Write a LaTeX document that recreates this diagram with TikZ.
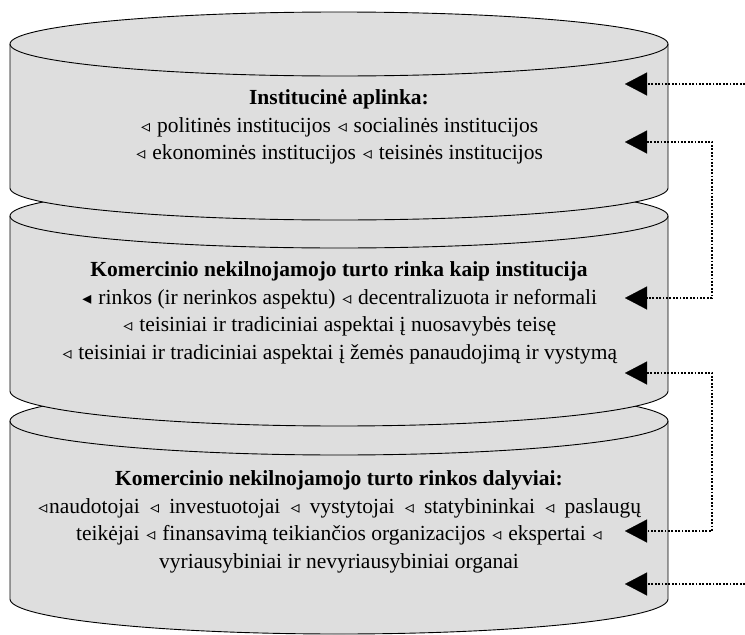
\documentclass[tikz,border=0pt]{standalone}
\usepackage{fontspec}
\setmainfont{Liberation Serif}
\newfontfamily\trifont{DejaVu Sans}
\usetikzlibrary{arrows.meta}
\definecolor{cylfill}{RGB}{222,222,222}
% small outline / filled triangles used as bullets
\newcommand\wtri{{\hspace{1.5pt}\trifont\fontsize{18}{18}\selectfont ◃\hspace{1.5pt}}}
\newcommand\btri{{\hspace{1.5pt}\trifont\fontsize{18}{18}\selectfont ◂\hspace{1.5pt}}}
% one cylinder segment: top centre y, top y-radius, bottom centre y, bottom y-radius
\newcommand\cylseg[4]{%
  \path[cylbody] (10,#3) -- (10,#1)
    arc[start angle=180,end angle=0,x radius=329,y radius=#2]
    -- (668,#3)
    arc[start angle=0,end angle=-180,x radius=329,y radius=#4] -- cycle;
  \draw[cylline] (10,#1) arc[start angle=180,end angle=360,x radius=329,y radius=#2];}
\begin{document}
\begin{tikzpicture}[x=1pt,y=1pt,
  cylbody/.style={fill=cylfill,draw=black,line width=0.9pt},
  cylline/.style={draw=black,line width=0.9pt},
  conn/.style={line width=2.6pt,dash pattern=on 1.9pt off 1.5pt},
  bigtip/.tip={Triangle[length=22pt,width=23pt,line width=0.1pt]},
  blocktext/.style={align=center,inner sep=0pt,font=\fontsize{21.5}{27.5}\selectfont}]
\useasboundingbox (0,0) rectangle (745,-635);

% stacked segments, lowest first so the upper ones overlap it
\cylseg{-421}{34}{-599}{35}
\cylseg{-216}{32}{-391}{35}
\cylseg{-44}{32}{-188}{32}

% texts of the three levels
\node[blocktext] (envtext) at (339,-127)
  {\textbf{Institucinė aplinka:}\\
   \wtri{} politinės institucijos \wtri{} socialinės institucijos\\
   \wtri{} ekonominės institucijos \wtri{} teisinės institucijos};
\node[blocktext] (markettext) at (339,-313)
  {\textbf{Komercinio nekilnojamojo turto rinka kaip institucija}\\
   \btri{} rinkos (ir nerinkos aspektu) \wtri{} decentralizuota ir neformali\\
   \wtri{} teisiniai ir tradiciniai aspektai į nuosavybės teisę\\
   \wtri{} teisiniai ir tradiciniai aspektai į žemės panaudojimą ir vystymą};
\node[blocktext] (actorstext) at (339,-522)
  {\textbf{Komercinio nekilnojamojo turto rinkos dalyviai:}\\
   \makebox[604pt][s]{\wtri{}naudotojai \wtri{} investuotojai \wtri{} vystytojai \wtri{} statybininkai \wtri{} paslaugų}\hspace*{46pt}\\
   teikėjai \wtri{} finansavimą teikiančios organizacijos \wtri{} ekspertai \wtri{}\\
   vyriausybiniai ir nevyriausybiniai organai};

% arrow tips and connector ends
\coordinate (t1) at (625,-84);  \coordinate (e1) at (745,-84);
\coordinate (t2) at (625,-142); \coordinate (k1) at (712,-142);
\coordinate (t3) at (625,-298);
\coordinate (t4) at (625,-373); \coordinate (k2) at (712,-373);
\coordinate (t5) at (625,-531);
\coordinate (t6) at (625,-584); \coordinate (e6) at (745,-584);

\draw[conn,-bigtip] (e1) -- (t1);
\draw[conn,bigtip-bigtip] (t2) -- (k1) |- (t3);
\draw[conn,bigtip-bigtip] (t4) -- (k2) |- (t5);
\draw[conn,-bigtip] (e6) -- (t6);
\end{tikzpicture}
\end{document}
